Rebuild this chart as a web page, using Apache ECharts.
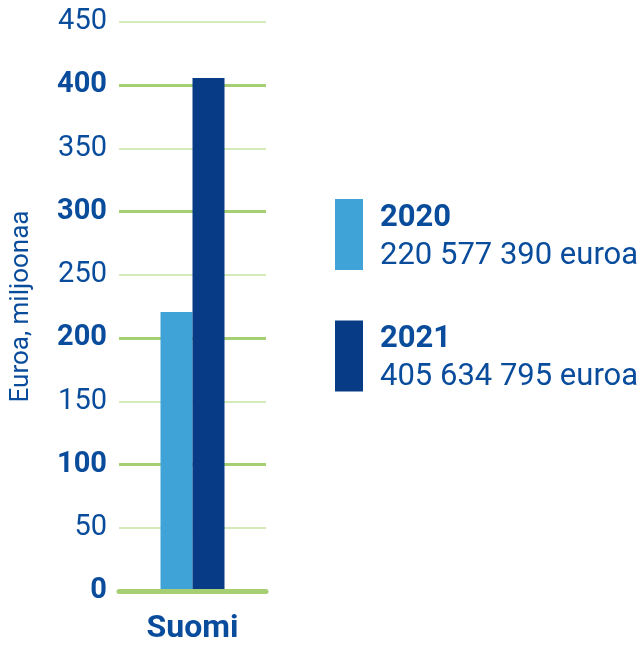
<!DOCTYPE html>
<html>
<head>
<meta charset="utf-8">
<script src="https://cdn.jsdelivr.net/npm/echarts@6/dist/echarts.min.js"></script>
<style>
  html, body { margin: 0; padding: 0; background: #fff; }
  #chart { width: 642px; height: 648px; }
</style>
</head>
<body>
<div id="chart"></div>
<script>
const categories = ['Suomi'];
const years = ['2020', '2021'];
// amounts in euros, plotted in millions
const amounts = [220577390, 405634795];
const yTicks = [0, 50, 100, 150, 200, 250, 300, 350, 400, 450];

const barColors = ['#3fa3d8', '#073b86'];
const textBlue = '#0a4c9c';
const thinGreen = '#d3ebb9';
const thickGreen = '#a6cf74';
const fontFamily = 'Roboto, "Noto Sans", sans-serif';

const fmtEuro = (v) => String(v).replace(/\B(?=(\d{3})+(?!\d))/g, ' ') + ' euroa';

const chart = echarts.init(document.getElementById('chart'));

const series = years.map((y, i) => ({
  name: y,
  type: 'bar',
  barWidth: 32,
  barGap: '0%',
  itemStyle: { color: barColors[i] },
  data: [amounts[i] / 1e6],
  z: 3
}));

chart.setOption({
  animation: false,
  textStyle: { fontFamily },
  grid: { left: 119, right: 376, top: 22, bottom: 57 },
  legend: {
    orient: 'vertical',
    left: 335,
    top: 199,
    padding: 0,
    itemWidth: 28,
    itemHeight: 71,
    itemGap: 49,
    icon: 'rect',
    selectedMode: false,
    data: years,
    formatter: (name) => {
      const i = years.indexOf(name);
      return '{y|' + name + '}\n{v|' + fmtEuro(amounts[i]) + '}';
    },
    textStyle: {
      padding: [5, 0, 0, 12],
      rich: {
        y: { fontSize: 31, fontWeight: 'bold', color: textBlue, lineHeight: 38, fontFamily },
        v: { fontSize: 31, color: textBlue, lineHeight: 38, fontFamily }
      }
    }
  },
  xAxis: {
    type: 'category',
    data: categories,
    axisTick: { show: false },
    axisLine: { show: true, lineStyle: { color: thickGreen, width: 5, cap: 'round' } },
    axisLabel: { color: textBlue, fontSize: 32, fontWeight: 'bold', margin: 22, fontFamily },
    z: 5
  },
  yAxis: [
    {
      type: 'value',
      min: yTicks[0],
      max: yTicks[yTicks.length - 1],
      interval: 50,
      name: 'Euroa, miljoonaa',
      nameLocation: 'middle',
      nameGap: 85,
      nameTextStyle: { color: textBlue, fontSize: 26, fontFamily },
      axisLine: { show: false },
      axisTick: { show: false },
      axisLabel: {
        margin: 12,
        formatter: (v) => (v % 100 === 0 ? '{b|' + v + '}' : '{n|' + v + '}'),
        rich: {
          b: { fontSize: 29, fontWeight: 'bold', color: textBlue, fontFamily },
          n: { fontSize: 29, color: textBlue, fontFamily }
        }
      },
      splitLine: { show: true, lineStyle: { color: thinGreen, width: 2 } }
    },
    {
      type: 'value',
      min: yTicks[0],
      max: yTicks[yTicks.length - 1],
      interval: 100,
      position: 'left',
      axisLine: { show: false },
      axisTick: { show: false },
      axisLabel: { show: false },
      // lines at 0..400 thick, the extra max line at 450 hidden
      splitLine: {
        show: true,
        lineStyle: {
          color: [thickGreen, thickGreen, thickGreen, thickGreen, thickGreen, 'rgba(0,0,0,0)'],
          width: 3
        }
      }
    }
  ],
  series
});
</script>
</body>
</html>
